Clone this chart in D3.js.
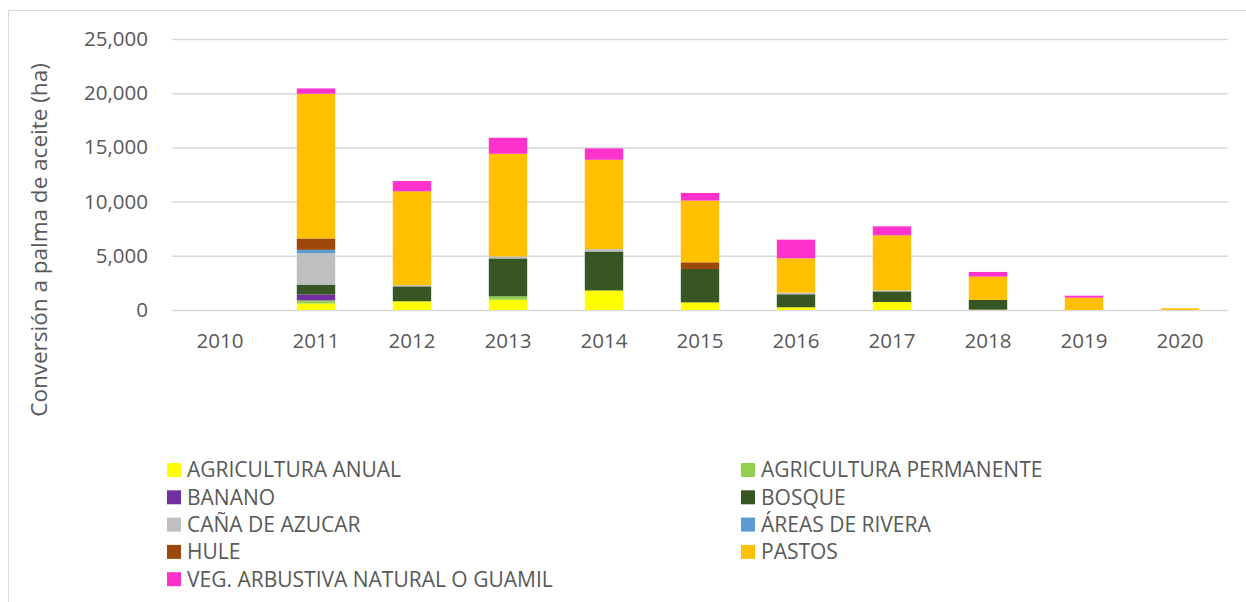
<!DOCTYPE html>
<html>
<head>
<meta charset="utf-8">
<script src="https://cdn.jsdelivr.net/npm/d3@7"></script>
<style>
  body { margin: 0; background: #fff; }
  text { font-family: "Open Sans", sans-serif; fill: #595959; }
</style>
</head>
<body>
<svg id="chart" width="1246" height="602"></svg>
<script>
// ---------- Data ---------- //

var years = ["2010", "2011", "2012", "2013", "2014", "2015", "2016", "2017", "2018", "2019", "2020"];

var agriculturaAnual      = [0, 600, 800, 950, 1800, 700, 250, 740, 30, 0, 0];
var agriculturaPermanente = [0, 280, 0, 310, 0, 0, 0, 0, 0, 0, 0];
var banano                = [0, 550, 0, 0, 0, 0, 0, 0, 0, 0, 0];
var bosque                = [0, 920, 1380, 3500, 3600, 3080, 1200, 980, 900, 0, 0];
var canaDeAzucar          = [0, 2890, 120, 180, 220, 0, 150, 90, 0, 0, 0];
var areasDeRivera         = [0, 310, 0, 0, 0, 0, 0, 0, 0, 0, 0];
var hule                  = [0, 1050, 0, 0, 0, 620, 0, 0, 0, 0, 0];
var pastos                = [0, 13350, 8650, 9470, 8240, 5690, 3170, 5080, 2150, 1140, 150];
var vegArbustiva          = [0, 490, 950, 1480, 1050, 710, 1720, 830, 430, 180, 0];

var seriesNames = ["AGRICULTURA ANUAL", "AGRICULTURA PERMANENTE", "BANANO", "BOSQUE",
                   "CAÑA DE AZUCAR", "ÁREAS DE RIVERA", "HULE", "PASTOS",
                   "VEG. ARBUSTIVA NATURAL O GUAMIL"];
var seriesValues = [agriculturaAnual, agriculturaPermanente, banano, bosque,
                    canaDeAzucar, areasDeRivera, hule, pastos, vegArbustiva];
var seriesColors = ["#ffff00", "#92d050", "#7030a0", "#375623",
                    "#bfbfbf", "#5b9bd5", "#9e480e", "#ffc000", "#ff33cc"];

var yTicks = [0, 5000, 10000, 15000, 20000, 25000];

// ---------- Chart ---------- //

var svg = d3.select("#chart");

// outer frame (clipped by the window on the right and bottom)
svg.append("rect")
    .attr("x", 8.5)
    .attr("y", 10.5)
    .attr("width", 1300)
    .attr("height", 700)
    .attr("fill", "none")
    .attr("stroke", "#d9d9d9");

var plotLeft = 172, plotRight = 1228, plotTop = 39, plotBottom = 310;

var x = d3.scaleBand()
    .domain(years)
    .range([plotLeft, plotRight])
    .paddingInner(0.6)
    .paddingOuter(0.3);

var y = d3.scaleLinear()
    .domain([0, 25000])
    .range([plotBottom, plotTop]);

// grid + y labels
var yAxis = svg.append("g")
    .attr("transform", "translate(" + plotLeft + ",0)")
    .call(d3.axisLeft(y)
        .tickValues(yTicks)
        .tickFormat(d3.format(","))
        .tickSize(-(plotRight - plotLeft))
        .tickPadding(24));

yAxis.select(".domain").remove();
yAxis.selectAll("line")
    .attr("stroke", "#d9d9d9")
    .attr("stroke-width", 1.5);
yAxis.selectAll("text")
    .attr("font-size", "20.5px")
    .attr("fill", "#595959");

// x labels
var xAxis = svg.append("g")
    .attr("transform", "translate(0," + plotBottom + ")")
    .call(d3.axisBottom(x).tickSize(0).tickPadding(23));

xAxis.select(".domain").remove();
xAxis.selectAll("text")
    .attr("font-size", "20.5px")
    .attr("fill", "#595959");

// stacked bars
var table = years.map(function(yr, i) {
    var row = { year: yr };
    seriesNames.forEach(function(name, s) { row[name] = seriesValues[s][i]; });
    return row;
});

var stacked = d3.stack().keys(seriesNames)(table);

var color = d3.scaleOrdinal().domain(seriesNames).range(seriesColors);

svg.append("g")
    .selectAll("g")
    .data(stacked)
    .join("g")
    .attr("fill", function(d) { return color(d.key); })
    .selectAll("rect")
    .data(function(d) { return d; })
    .join("rect")
    .attr("x", function(d) { return x(d.data.year); })
    .attr("y", function(d) { return y(d[1]); })
    .attr("width", x.bandwidth())
    .attr("height", function(d) { return y(d[0]) - y(d[1]); });

// y axis title
svg.append("text")
    .attr("transform", "translate(47,240) rotate(-90)")
    .attr("text-anchor", "middle")
    .attr("font-size", "22.5px")
    .text("Conversión a palma de aceite (ha)");

// ---------- Legend ---------- //

var legend = svg.append("g");

var legendItems = legend.selectAll("g")
    .data(seriesNames)
    .join("g")
    .attr("transform", function(d, i) {
        var col = i % 2, row = Math.floor(i / 2);
        return "translate(" + (col === 0 ? 167 : 741) + "," + (470 + row * 27.3) + ")";
    });

legendItems.append("rect")
    .attr("x", 0)
    .attr("y", -7)
    .attr("width", 14)
    .attr("height", 14)
    .attr("fill", function(d) { return color(d); });

legendItems.append("text")
    .attr("x", 20)
    .attr("y", 0)
    .attr("dy", "0.35em")
    .attr("font-size", "21px")
    .text(function(d) { return d; });
</script>
</body>
</html>
